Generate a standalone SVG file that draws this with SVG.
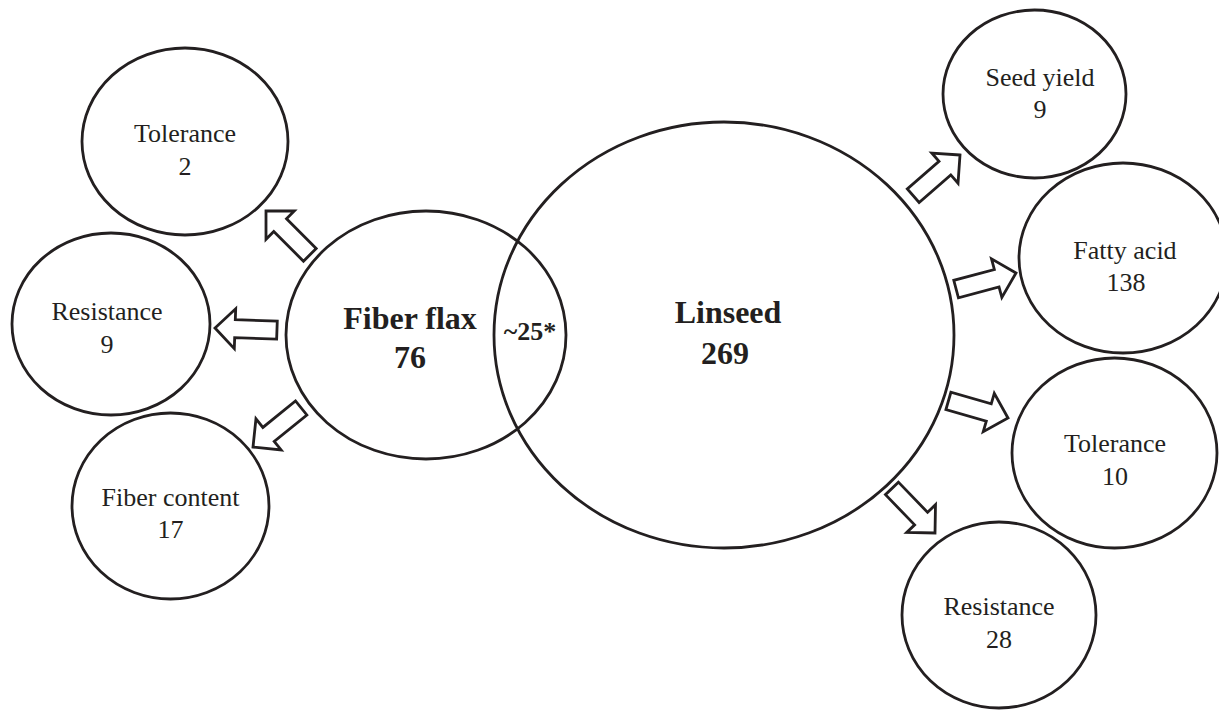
<svg xmlns="http://www.w3.org/2000/svg" width="1219" height="713" viewBox="0 0 1219 713">
<style>
.c{fill:none;stroke:#231f20;stroke-width:2.8}
.t{font-family:"Liberation Serif","Times New Roman",serif;font-size:26px;fill:#231f20;text-anchor:middle}
.b{font-family:"Liberation Serif","Times New Roman",serif;font-weight:bold;font-size:32px;fill:#231f20;text-anchor:middle}
.a{fill:#fff;stroke:#231f20;stroke-width:2.8;stroke-linejoin:miter}
</style>
<defs>
<path id="arr" d="M0,0 L-20,-20 L-20,-9 L-62,-9 L-62,9 L-20,9 L-20,20 Z"/>
</defs>
<rect width="1219" height="713" fill="#fff"/>
<g id="connectors">
<use href="#arr" class="a" transform="translate(266,211) rotate(-135)"/>
<use href="#arr" class="a" transform="translate(215,328) rotate(182)"/>
<use href="#arr" class="a" transform="translate(253,447) rotate(141)"/>
<use href="#arr" class="a" transform="translate(960,155) rotate(-41)"/>
<use href="#arr" class="a" transform="translate(1016,273) rotate(-15)"/>
<use href="#arr" class="a" transform="translate(1008,418) rotate(16)"/>
<use href="#arr" class="a" transform="translate(935,533) rotate(46)"/>
</g>
<g id="fiber-flax">
<ellipse class="c" cx="426" cy="335" rx="140" ry="124"/>
<text class="b" x="410" y="329" font-size="31">Fiber flax</text>
<text class="b" x="410" y="368" font-size="31">76</text>
</g>
<g id="linseed">
<ellipse class="c" cx="724" cy="335" rx="230" ry="213"/>
<text class="b" x="728" y="323">Linseed</text>
<text class="b" x="725" y="364">269</text>
</g>
<g id="overlap">
<text class="b" x="530" y="340" style="font-size:26px">~25*</text>
</g>
<g id="tolerance-left">
<ellipse class="c" cx="185" cy="141.5" rx="103" ry="93.5"/>
<text class="t" x="185" y="142">Tolerance</text>
<text class="t" x="185" y="175">2</text>
</g>
<g id="resistance-left">
<ellipse class="c" cx="111" cy="324" rx="99" ry="91"/>
<text class="t" x="107" y="320">Resistance</text>
<text class="t" x="107" y="353">9</text>
</g>
<g id="fiber-content">
<ellipse class="c" cx="170.5" cy="506" rx="98.5" ry="93"/>
<text class="t" x="170.5" y="506">Fiber content</text>
<text class="t" x="170.5" y="538">17</text>
</g>
<g id="seed-yield">
<ellipse class="c" cx="1034.5" cy="94" rx="91.5" ry="84"/>
<text class="t" x="1040" y="86">Seed yield</text>
<text class="t" x="1040" y="118">9</text>
</g>
<g id="fatty-acid">
<ellipse class="c" cx="1123" cy="258" rx="104" ry="95"/>
<text class="t" x="1125" y="259">Fatty acid</text>
<text class="t" x="1126" y="291">138</text>
</g>
<g id="tolerance-right">
<ellipse class="c" cx="1114.5" cy="453" rx="102.5" ry="95"/>
<text class="t" x="1115" y="452">Tolerance</text>
<text class="t" x="1115" y="485">10</text>
</g>
<g id="resistance-right">
<ellipse class="c" cx="999" cy="615" rx="97" ry="93"/>
<text class="t" x="999" y="615">Resistance</text>
<text class="t" x="999" y="648">28</text>
</g>
</svg>
